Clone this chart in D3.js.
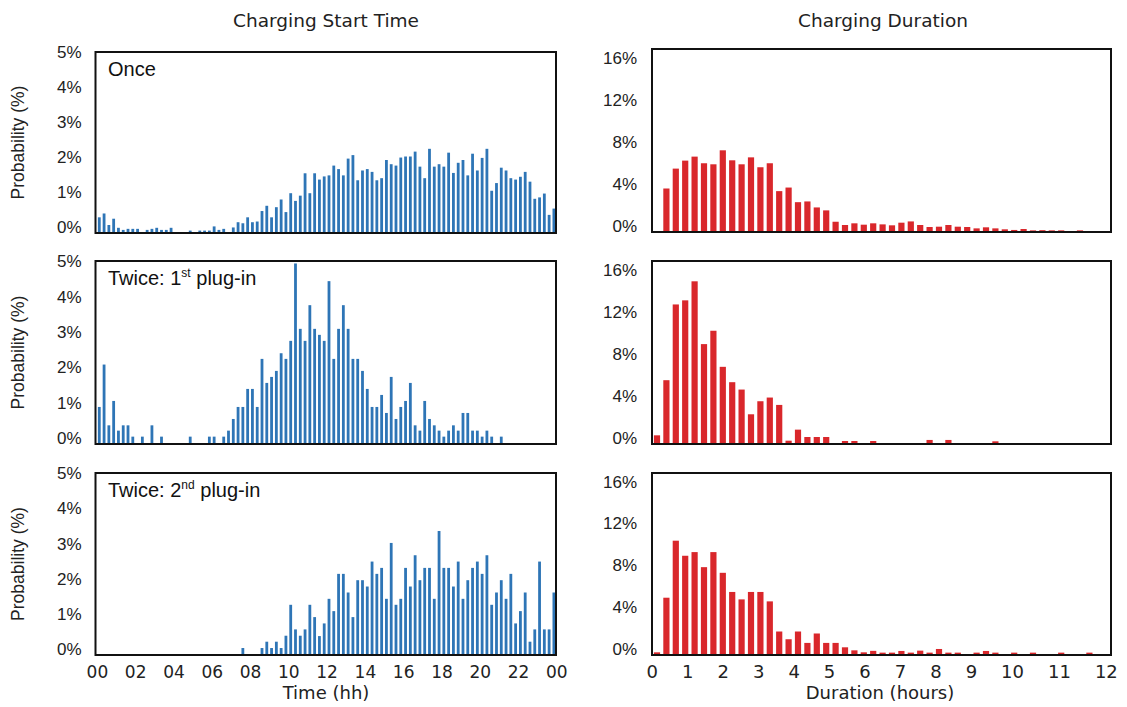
<!DOCTYPE html>
<html>
<head>
<meta charset="utf-8">
<script src="https://cdn.jsdelivr.net/npm/d3@7"></script>
<style>
  body { margin: 0; background: #fff; }
</style>
</head>
<body>
<div id="chart"></div>
<script>
// tick labels
const startTicks = ["00", "02", "04", "06", "08", "10", "12", "14", "16", "18", "20", "22", "00"];
const durTicks = ["0", "1", "2", "3", "4", "5", "6", "7", "8", "9", "10", "11", "12"];
const startPctTicks = [0, 1, 2, 3, 4, 5];
const durPctTicks = [0, 4, 8, 12, 16];
const panelNames = ["Once", "Twice: 1", "Twice: 2"];
const panelSups = ["", "st", "nd"];

// start time, 96 bins of 15 min (%)
const startOnce = [
  0.42, 0.53, 0.2, 0.38, 0.12, 0.06, 0.09, 0.09, 0.09, 0, 0.06, 0.09, 0.12, 0.06, 0.06, 0.12,
  0, 0, 0, 0.04, 0, 0.04, 0.04, 0.04, 0.16, 0.06, 0.09, 0, 0.13, 0.28, 0.25, 0.42,
  0.28, 0.3, 0.6, 0.75, 0.42, 0.71, 0.93, 0.57, 1.11, 0.89, 1.04, 1.68, 1.11, 1.68, 1.5, 1.59,
  1.62, 1.9, 1.8, 1.62, 2.1, 2.2, 1.48, 1.76, 1.8, 1.72, 1.48, 1.54, 2.06, 1.94, 1.9, 2.13,
  2.16, 2.16, 2.3, 1.87, 1.54, 2.38, 1.87, 1.94, 1.87, 2.27, 1.69, 1.98, 2.06, 1.62, 2.24, 1.76,
  2.12, 2.38, 1.18, 1.4, 1.84, 1.76, 1.54, 1.5, 1.58, 1.72, 1.44, 0.95, 0.99, 1.1, 0.49, 0.67
];
const startTwice1 = [
  1.02, 2.22, 0.5, 1.19, 0.35, 0.5, 0.5, 0.18, 0, 0.18, 0, 0.5, 0, 0.18, 0, 0,
  0, 0, 0, 0.18, 0, 0, 0, 0.18, 0.18, 0, 0.18, 0.35, 0.68, 1.02, 1.02, 1.53,
  1.53, 1.02, 2.38, 1.7, 1.87, 2.04, 2.54, 2.38, 2.89, 5.08, 3.23, 2.89, 3.9, 3.23, 3.06, 2.89,
  4.58, 2.38, 3.23, 3.9, 3.23, 2.38, 2.38, 2.04, 1.53, 1.02, 1.02, 1.36, 0.85, 1.87, 0.68, 1.02,
  1.19, 1.7, 0.5, 0.35, 1.19, 0.68, 0.5, 0.35, 0.18, 0.35, 0.5, 0.35, 0.85, 0.85, 0.35, 0.35,
  0.18, 0.35, 0.18, 0, 0.18, 0, 0, 0, 0, 0, 0, 0, 0, 0, 0, 0
];
const startTwice2 = [
  0, 0, 0, 0, 0, 0, 0, 0, 0, 0, 0, 0, 0, 0, 0, 0,
  0, 0, 0, 0, 0, 0, 0, 0, 0, 0, 0, 0, 0, 0, 0.17, 0,
  0, 0, 0.17, 0.35, 0.17, 0.35, 0.17, 0.52, 1.4, 0.7, 0.52, 0.7, 1.4, 1.05, 0.51, 0.87,
  1.57, 1.22, 2.28, 2.28, 1.75, 1.05, 2.1, 2.1, 1.92, 2.63, 2.28, 2.45, 1.57, 3.16, 1.4, 1.57,
  2.45, 1.92, 2.81, 2.1, 2.45, 2.45, 1.57, 3.5, 2.45, 2.45, 1.92, 2.63, 1.57, 2.1, 2.45, 2.63,
  2.28, 2.81, 1.4, 1.75, 2.1, 1.57, 2.28, 0.87, 1.22, 1.75, 0.35, 0.7, 2.63, 0.7, 0.7, 1.75
];

// duration, 48 bins of 15 min (%)
const durOnce = [
  0, 4.04, 5.93, 6.69, 7.07, 6.44, 6.34, 7.67, 6.72, 6.34, 7.0, 6.06, 6.44, 3.79, 4.13, 2.74,
  2.81, 2.24, 1.96, 0.88, 0.57, 0.73, 0.6, 0.73, 0.63, 0.54, 0.79, 0.91, 0.57, 0.38, 0.41, 0.57,
  0.41, 0.38, 0.25, 0.35, 0.25, 0.16, 0.1, 0.19, 0.06, 0.08, 0.06, 0.06, 0, 0.06, 0, 0
];
const durTwice1 = [
  0.73, 5.97, 13.17, 13.56, 15.37, 9.4, 10.67, 7.24, 5.78, 5.08, 2.73, 3.97, 4.32, 3.62, 0.22, 1.27,
  0.57, 0.57, 0.57, 0, 0.19, 0.19, 0, 0.19, 0, 0, 0, 0, 0, 0.29, 0, 0.29,
  0, 0, 0, 0, 0.16, 0, 0, 0, 0, 0, 0, 0, 0, 0, 0, 0
];
const durTwice2 = [
  0.16, 5.38, 10.83, 9.39, 9.74, 8.3, 9.74, 7.76, 5.93, 5.22, 5.93, 5.93, 5.03, 2.15, 1.41, 2.15,
  1.06, 1.96, 1.06, 1.06, 0.64, 0.35, 0.16, 0.3, 0.13, 0.13, 0.29, 0.13, 0.32, 0.13, 0.48, 0.13,
  0.13, 0, 0.13, 0.29, 0.13, 0, 0.13, 0, 0.13, 0, 0, 0.13, 0, 0, 0.13, 0
];

const startSeries = [startOnce, startTwice1, startTwice2];
const durSeries = [durOnce, durTwice1, durTwice2];

// layout
const W = 1127, H = 707;
const left = { x0: 95.5, x1: 556, rows: [[52, 233], [261, 444], [473, 655]] };
const right = { x0: 652, x1: 1111, rows: [[49, 232], [261, 444], [473, 655]] };
const blue = "#2e75b6", red = "#d9272b";

const svg = d3.select("#chart").append("svg")
  .attr("width", W)
  .attr("height", H)
  .attr("viewBox", [0, 0, W, H]);

// x scales
const xStart = d3.scaleLinear().domain([0, 24]).range([96.9, 556.3]);
const xDur = d3.scaleLinear().domain([0, 12]).range([652.3, 1103.5]);

// titles
svg.append("text")
  .attr("x", 326).attr("y", 27)
  .attr("text-anchor", "middle")
  .attr("font-family", "DejaVu Sans").attr("font-size", 18.5).attr("fill", "#222")
  .text("Charging Start Time");
svg.append("text")
  .attr("x", 883).attr("y", 27)
  .attr("text-anchor", "middle")
  .attr("font-family", "DejaVu Sans").attr("font-size", 18.5).attr("fill", "#222")
  .text("Charging Duration");

const drawPanel = (i, side) => {
  const [top, bottom] = side.rows[i];
  const isStart = side === left;
  const data = isStart ? startSeries[i] : durSeries[i];
  const xs = isStart ? xStart : xDur;
  const y = d3.scaleLinear()
    .domain([0, isStart ? 5.15 : 17.3])
    .range([bottom - 1, top]);
  const binW = 0.25;
  const bw = isStart ? 2.8 : 6.2;

  // y axis labels
  svg.append("g")
    .attr("transform", `translate(${side.x0}, -5)`)
    .call(d3.axisLeft(y)
      .tickValues(isStart ? startPctTicks : durPctTicks)
      .tickFormat((d) => d + "%")
      .tickSize(0)
      .tickPadding(isStart ? 14 : 15))
    .attr("font-family", "Liberation Sans, Arial").attr("font-size", 17)
    .call((g) => g.select(".domain").remove())
    .call((g) => g.selectAll("text").attr("fill", "#222"));

  // bars
  svg.append("g")
    .selectAll("rect")
    .data(data)
    .join("rect")
    .attr("x", (d, k) => xs(k * binW + binW / 2) - bw / 2)
    .attr("y", (d) => y(d))
    .attr("width", bw)
    .attr("height", (d) => y(0) - y(d))
    .attr("fill", isStart ? blue : red);

  // frame
  svg.append("rect")
    .attr("x", side.x0).attr("y", top)
    .attr("width", side.x1 - side.x0).attr("height", bottom - top)
    .attr("fill", "none")
    .attr("stroke", "#111")
    .attr("stroke-width", 2);

  // panel label
  if (isStart) {
    const t = svg.append("text")
      .attr("x", 108).attr("y", top + 24)
      .attr("font-family", "Liberation Sans, Arial").attr("font-size", 20).attr("fill", "#111");
    t.append("tspan").text(panelNames[i]);
    if (panelSups[i]) {
      t.append("tspan").attr("font-size", 12).attr("dy", -8).text(panelSups[i]);
      t.append("tspan").attr("dy", 8).text(" plug-in");
    }
    // y title
    svg.append("text")
      .attr("transform", `translate(24, ${(top + bottom) / 2}) rotate(-90)`)
      .attr("text-anchor", "middle")
      .attr("font-family", "Liberation Sans, Arial").attr("font-size", 17.5).attr("fill", "#222")
      .text("Probability (%)");
  }
};

[0, 1, 2].forEach((i) => {
  drawPanel(i, left);
  drawPanel(i, right);
});

// x axis: start time
svg.append("g")
  .attr("transform", `translate(0, 655)`)
  .call(d3.axisBottom(xStart)
    .tickValues(d3.range(0, 25, 2))
    .tickFormat((d, k) => startTicks[k])
    .tickSize(0)
    .tickPadding(11))
  .attr("font-family", "DejaVu Sans").attr("font-size", 17)
  .call((g) => g.select(".domain").remove())
  .call((g) => g.selectAll("text").attr("fill", "#222"));

// x axis: duration, labels laid out like a spaced text line
const gap = 24;
const durLabels = svg.append("g")
  .attr("font-family", "DejaVu Sans").attr("font-size", 18).attr("fill", "#222")
  .selectAll("text")
  .data(durTicks)
  .join("text")
  .attr("y", 678)
  .attr("text-anchor", "middle")
  .text((d) => d);
let cx = xDur(0), prevW = 0;
durLabels.each(function (d, k) {
  const w = this.getComputedTextLength();
  if (k > 0) cx += prevW / 2 + gap + w / 2;
  d3.select(this).attr("x", cx);
  prevW = w;
});

// axis titles
svg.append("text")
  .attr("x", 326).attr("y", 699)
  .attr("text-anchor", "middle")
  .attr("font-family", "DejaVu Sans").attr("font-size", 18).attr("fill", "#222")
  .text("Time (hh)");
svg.append("text")
  .attr("x", 880).attr("y", 699)
  .attr("text-anchor", "middle")
  .attr("font-family", "DejaVu Sans").attr("font-size", 18).attr("fill", "#222")
  .text("Duration (hours)");
</script>
</body>
</html>
